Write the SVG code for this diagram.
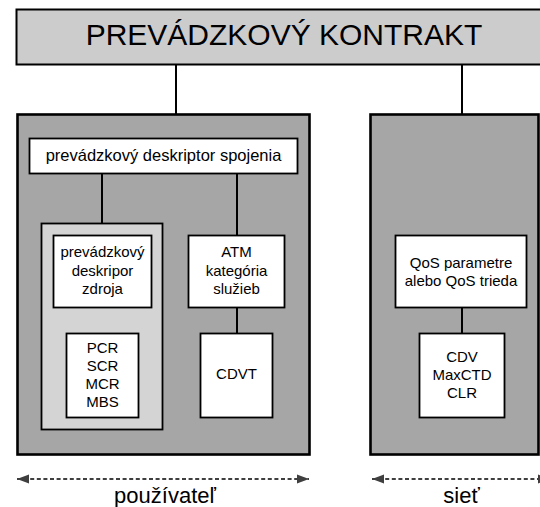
<svg xmlns="http://www.w3.org/2000/svg" width="540" height="507" viewBox="0 0 540 507">
<style>
text{font-family:"Liberation Sans",Arial,sans-serif;fill:#000;text-anchor:middle}
.big{fill:#a6a6a6;stroke:#000;stroke-width:2.6}
.wb{fill:#fff;stroke:#000;stroke-width:1.8}
.lb{fill:#d4d4d4;stroke:#000;stroke-width:1.8}
.ln{stroke:#000;stroke-width:2;fill:none}
.da{stroke:#3f3f3f;stroke-width:2;stroke-dasharray:4 2.6;fill:none}
.t15{font-size:15px}
</style>
<defs>
<marker id="ah" viewBox="0 0 12 10" refX="12" refY="5" markerWidth="12" markerHeight="10" markerUnits="userSpaceOnUse" orient="auto-start-reverse">
<path d="M0,0.5 L12,5 L0,9.5 z" fill="#3f3f3f"/>
</marker>
</defs>
<g id="kontrakt">
<rect x="16.5" y="9.5" width="530" height="55" fill="#cccccc" stroke="#000" stroke-width="2"/>
<text x="284" y="45" font-size="30">PREVÁDZKOVÝ KONTRAKT</text>
</g>
<g id="connectors">
<line class="ln" x1="176" y1="64" x2="176" y2="114"/>
<line class="ln" x1="462" y1="64" x2="462" y2="235"/>
</g>
<g id="pouzivatel">
<rect class="big" x="17.5" y="114.5" width="292" height="340"/>
</g>
<g id="siet">
<rect class="big" x="370.5" y="114.5" width="168" height="340"/>
</g>
<g id="connectors-inner">
<line class="ln" x1="102" y1="174" x2="102" y2="235"/>
<line class="ln" x1="237" y1="174" x2="237" y2="235"/>
<line class="ln" x1="102" y1="308" x2="102" y2="333"/>
<line class="ln" x1="237" y1="308" x2="237" y2="333"/>
<line class="ln" x1="462" y1="308" x2="462" y2="333"/>
</g>
<g id="deskriptor-spojenia">
<rect class="wb" x="29.5" y="138.5" width="268" height="35"/>
<text x="163.5" y="161" font-size="16.5">prevádzkový deskriptor spojenia</text>
</g>
<g id="zdroj-skupina">
<rect class="lb" x="41.5" y="223.5" width="121" height="206"/>
</g>
<g id="deskriptor-zdroja">
<rect class="wb" x="53.5" y="235.5" width="98" height="72"/>
<text class="t15" x="102.5" y="257">prevádzkový</text>
<text class="t15" x="102.5" y="276">deskripor</text>
<text class="t15" x="102.5" y="294">zdroja</text>
</g>
<g id="atm-kategoria">
<rect class="wb" x="188.5" y="235.5" width="96" height="72"/>
<text class="t15" x="236.5" y="257">ATM</text>
<text class="t15" x="236.5" y="276">kategória</text>
<text class="t15" x="236.5" y="294">služieb</text>
</g>
<g id="pcr">
<rect class="wb" x="66.5" y="333.5" width="72" height="84"/>
<text class="t15" x="102.5" y="353">PCR</text>
<text class="t15" x="102.5" y="371">SCR</text>
<text class="t15" x="102.5" y="389">MCR</text>
<text class="t15" x="102.5" y="407">MBS</text>
</g>
<g id="cdvt">
<rect class="wb" x="200.5" y="333.5" width="72" height="84"/>
<text class="t15" x="236.5" y="379">CDVT</text>
</g>
<g id="qos">
<rect class="wb" x="395.5" y="235.5" width="131" height="72"/>
<text class="t15" x="461" y="268">QoS parametre</text>
<text class="t15" x="461" y="286">alebo QoS trieda</text>
</g>
<g id="cdv">
<rect class="wb" x="419.5" y="333.5" width="85" height="84"/>
<text class="t15" x="462" y="362">CDV</text>
<text class="t15" x="462" y="380">MaxCTD</text>
<text class="t15" x="462" y="398">CLR</text>
</g>
<g id="arrows">
<line class="da" x1="17" y1="479" x2="309" y2="479" marker-start="url(#ah)" marker-end="url(#ah)"/>
<line class="da" x1="372" y1="479" x2="550" y2="479" marker-start="url(#ah)" marker-end="url(#ah)"/>
</g>
<g id="labels">
<text x="165" y="503" font-size="22">používateľ</text>
<text x="461.5" y="503" font-size="22">sieť</text>
</g>
</svg>
